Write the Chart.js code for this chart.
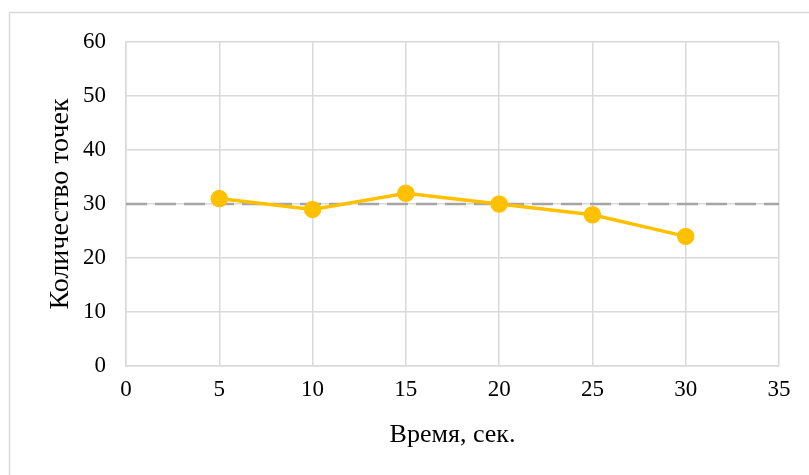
<!DOCTYPE html>
<html>
<head>
<meta charset="utf-8">
<script src="https://cdn.jsdelivr.net/npm/chart.js@4"></script>
<style>
  html, body { margin: 0; padding: 0; background: #fff; }
  #wrap { width: 809px; height: 475px; position: relative; }
</style>
</head>
<body>
<div id="wrap"><canvas id="chart"></canvas></div>
<script>
// data
const timeSec = [5, 10, 15, 20, 25, 30];
const pointCount = [31, 29, 32, 30, 28, 24];
const refLineX = [0, 35];
const refLineY = [30, 30];

const serif = '"Liberation Serif", "Times New Roman", serif';
const gridColor = '#d9d9d9';

// frame around the whole chart (cut at right/bottom like the reference)
const frame = {
  id: 'frame',
  beforeDraw(chart) {
    const c = chart.ctx;
    c.save();
    c.strokeStyle = '#d9d9d9';
    c.lineWidth = 1.5;
    c.strokeRect(9.5, 12.5, 820, 480);
    c.restore();
  }
};

new Chart(document.getElementById('chart'), {
  type: 'scatter',
  data: {
    datasets: [
      {
        data: refLineX.map((x, i) => ({ x: x, y: refLineY[i] })),
        showLine: true,
        borderColor: '#a5a5a5',
        borderWidth: 2.5,
        borderDash: [21, 8],
        pointRadius: 0,
        order: 2
      },
      {
        data: timeSec.map((x, i) => ({ x: x, y: pointCount[i] })),
        showLine: true,
        borderColor: '#ffc000',
        backgroundColor: '#ffc000',
        borderWidth: 3.5,
        pointRadius: 7,
        pointHoverRadius: 7,
        order: 1
      }
    ]
  },
  options: {
    responsive: true,
    maintainAspectRatio: false,
    animation: false,
    layout: { padding: { left: 0, top: 42, right: 30, bottom: 0 } },
    plugins: { legend: { display: false }, tooltip: { enabled: false } },
    scales: {
      x: {
        type: 'linear',
        min: 0, max: 35,
        ticks: { stepSize: 5, color: '#000', font: { family: serif, size: 23 }, padding: 10, maxRotation: 0 },
        grid: { color: gridColor, lineWidth: 1.5, drawTicks: false },
        border: { color: gridColor, width: 1.5 },
        title: { display: true, text: 'Время, сек.', color: '#000', font: { family: serif, size: 26 }, padding: { top: 0, bottom: 24 } },
        afterFit(s) { s.height = 109; }
      },
      y: {
        min: 0, max: 60,
        ticks: { stepSize: 10, color: '#000', font: { family: serif, size: 23 }, padding: 20 },
        grid: { color: gridColor, lineWidth: 1.5, drawTicks: false },
        border: { color: gridColor, width: 1.5 },
        title: { display: true, text: 'Количество точек', color: '#000', font: { family: serif, size: 28 }, padding: { top: 44, bottom: 0 } },
        afterFit(s) { s.width = 126; }
      }
    }
  },
  plugins: [frame]
});
</script>
</body>
</html>
